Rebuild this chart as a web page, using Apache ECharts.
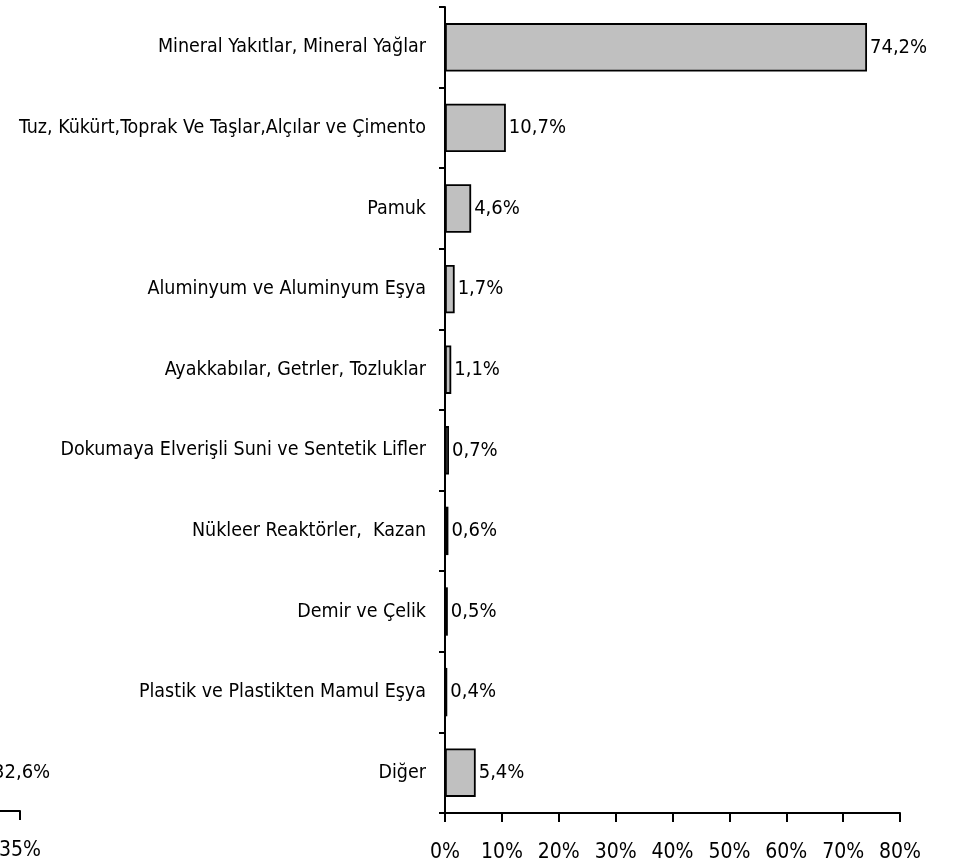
<!DOCTYPE html>
<html lang="tr">
  <head>
    <meta charset="UTF-8" />
    <title>Chart</title>
    <style>
      body {
        margin: 0;
        background: #fff;
      }
      #chart {
        width: 956px;
        height: 868px;
      }
    </style>
  </head>
  <body>
    <div id="chart"></div>
    <script src="https://cdn.jsdelivr.net/npm/echarts@6/dist/echarts.min.js"></script>
    <script>
      const categories = [
        "Mineral Yakıtlar, Mineral Yağlar",
        "Tuz, Kükürt,Toprak Ve Taşlar,Alçılar ve Çimento",
        "Pamuk",
        "Aluminyum ve Aluminyum Eşya",
        "Ayakkabılar, Getrler, Tozluklar",
        "Dokumaya Elverişli Suni ve Sentetik Lifler",
        "Nükleer Reaktörler,  Kazan",
        "Demir ve Çelik",
        "Plastik ve Plastikten Mamul Eşya",
        "Diğer",
      ];
      const shares = [74.2, 10.7, 4.6, 1.7, 1.1, 0.7, 0.6, 0.5, 0.4, 5.4];

      // piece of a neighbouring chart, cut off at the left edge
      const leftCategories = ["Diğer"];
      const leftShares = [32.6];

      const font = "'Liberation Sans Narrow', 'DejaVu Sans Condensed', 'Liberation Sans', sans-serif";
      const fmt = (v) => String(v).replace(".", ",") + "%";

      const axisLine = { show: true, lineStyle: { color: "#000", width: 2 } };
      const xLabel = {
        formatter: (v) => v + "%",
        color: "#000",
        fontSize: 21,
        fontFamily: font,
        margin: 29,
      };
      const barStyle = { color: "#c0c0c0", borderColor: "#000", borderWidth: 1.8 };
      const barLabel = {
        show: true,
        position: "right",
        distance: 3,
        color: "#000",
        fontSize: 20,
        fontFamily: font,
        formatter: (p) => fmt(p.value),
      };

      const chart = echarts.init(document.getElementById("chart"));
      chart.setOption({
        animation: false,
        textStyle: { fontFamily: font },
        grid: [
          { left: 445, right: 56, top: 7, bottom: 55, outerBoundsMode: "none" },
          { left: -417, width: 437, top: 735, bottom: 57, outerBoundsMode: "none" },
        ],
        xAxis: [
          {
            gridIndex: 0,
            type: "value",
            min: 0,
            max: 80,
            interval: 10,
            splitLine: { show: false },
            axisLine: axisLine,
            axisTick: { show: true, length: 9, lineStyle: { color: "#000", width: 2 } },
            axisLabel: xLabel,
          },
          {
            gridIndex: 1,
            type: "value",
            min: 0,
            max: 35,
            interval: 5,
            splitLine: { show: false },
            axisLine: axisLine,
            axisTick: { show: true, length: 9, lineStyle: { color: "#000", width: 2 } },
            axisLabel: xLabel,
          },
        ],
        yAxis: [
          {
            gridIndex: 0,
            type: "category",
            data: categories,
            inverse: true,
            axisLine: axisLine,
            axisTick: { show: true, length: 6, lineStyle: { color: "#000", width: 2 } },
            axisLabel: {
              color: "#000",
              fontSize: 19.5,
              fontFamily: font,
              margin: 19,
            },
          },
          {
            gridIndex: 1,
            type: "category",
            data: leftCategories,
            show: false,
          },
        ],
        series: [
          {
            type: "bar",
            xAxisIndex: 0,
            yAxisIndex: 0,
            data: shares,
            barCategoryGap: "40%",
            itemStyle: barStyle,
            label: barLabel,
          },
          {
            type: "bar",
            xAxisIndex: 1,
            yAxisIndex: 1,
            data: leftShares,
            barCategoryGap: "40%",
            itemStyle: barStyle,
            label: barLabel,
          },
        ],
      });
    </script>
  </body>
</html>
